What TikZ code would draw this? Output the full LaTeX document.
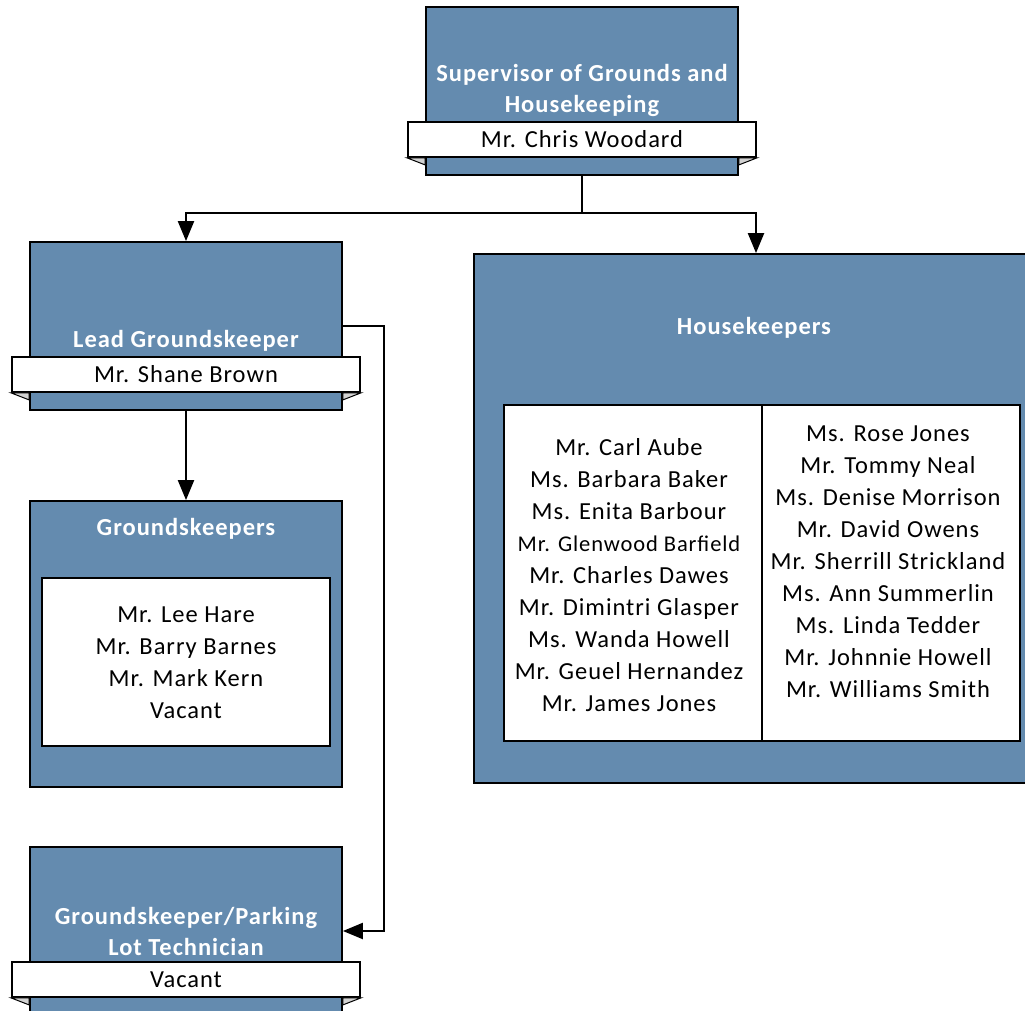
\documentclass[tikz,border=0pt]{standalone}
\usepackage{fontspec}
\setmainfont{Carlito}[LetterSpace=4]
\usetikzlibrary{arrows.meta}
\definecolor{unitblue}{RGB}{100,139,175}
\definecolor{foldgrey}{RGB}{210,210,210}
\newcommand*{\boxw   }{312}
\newcommand*{\boxh   }{168}
\newcommand*{\bannerw}{348}
\newcommand*{\bannerh}{35}
\newcommand*{\foldw  }{18}

\begin{document}
\begin{tikzpicture}[x=1pt, y=-1pt,
    unit/.style={draw, line width=1.8pt, fill=unitblue, minimum width=\boxw pt, minimum height=\boxh pt, inner sep=0pt},
    banner/.style={draw, line width=1.8pt, fill=white, minimum width=\bannerw pt, minimum height=\bannerh pt, inner sep=0pt, font=\fontsize{24.5}{28}\selectfont},
    title/.style={text=white, align=center, font=\bfseries\fontsize{24.5}{31}\selectfont},
    roster/.style={draw, line width=1.8pt, fill=white, inner sep=0pt},
    names/.style={align=center, font=\fontsize{24.5}{32}\selectfont},
    link/.style={line width=2.2pt},
    arr/.style={link, -{Triangle[length=20pt, width=16pt]}}]
    \useasboundingbox (0,0) rectangle (1025,1011);
    \clip (0,0) rectangle (1025,1011);
    % supervisor
    \node [unit] (supv) at (582,91) {};
    \node [title] (supvtitle) at (582,90) {Supervisor of Grounds and\\Housekeeping};
    \node [banner] (supvname) at (582,139.5) {Mr. Chris Woodard};
    % lead groundskeeper
    \node [unit] (lead) at (186,326) {};
    \node [title] (leadtitle) at (186,341) {Lead Groundskeeper};
    \node [banner] (leadname) at (186,374.5) {Mr. Shane Brown};
    % groundskeepers
    \node [unit, minimum height=286pt] (gk) at (186,644) {};
    \node [title] (gktitle) at (186,529) {Groundskeepers};
    \node [roster, minimum width=288pt, minimum height=168pt] (gkroster) at (186,662) {};
    \node [names] (gklist) at (186,663) {Mr. Lee Hare\\Mr. Barry Barnes\\Mr. Mark Kern\\Vacant};
    % parking lot technician
    \node [unit] (plt) at (186,931) {};
    \node [title] (plttitle) at (186,931) {Groundskeeper/Parking\\Lot Technician};
    \node [banner] (pltname) at (186,979.5) {Vacant};
    % housekeepers
    \node [unit, minimum width=564pt, minimum height=529pt] (hk) at (756,518.5) {};
    \node [title] (hktitle) at (754,328) {Housekeepers};
    \node [roster, minimum width=516pt, minimum height=336pt] (hkroster) at (762,573) {};
    \draw [line width=1.8pt] (hkroster.north) -- (hkroster.south);
    \node [names] (hkleft) at (629,575) {Mr. Carl Aube\\Ms. Barbara Baker\\Ms. Enita Barbour\\{\fontsize{22.5}{32}\selectfont Mr. Glenwood Barfield}\\Mr. Charles Dawes\\Mr. Dimintri Glasper\\Ms. Wanda Howell\\Mr. Geuel Hernandez\\Mr. James Jones};
    \node [names] (hkright) at (888,561.5) {Ms. Rose Jones\\Mr. Tommy Neal\\Ms. Denise Morrison\\Mr. David Owens\\Mr. Sherrill Strickland\\Ms. Ann Summerlin\\Ms. Linda Tedder\\Mr. Johnnie Howell\\Mr. Williams Smith};
    % banner folds
    \foreach \b in {supvname, leadname, pltname} {
        \filldraw [fill=foldgrey, line width=1pt] (\b.south west) -- ++(\foldw,0) -- ++(0,7) -- cycle;
        \filldraw [fill=foldgrey, line width=1pt] (\b.south east) -- ++(-\foldw,0) -- ++(0,7) -- cycle;
    }
    % connectors
    \coordinate (split) at (582,213);
    \draw [link] (supv.south) -- (split);
    \draw [arr] (split) -| (lead.north);
    \draw [arr] (split) -| (hk.north);
    \draw [arr] (lead.south) -- (gk.north);
    \draw [arr] (lead.east) -- ++(41,0) |- (plt.east);
\end{tikzpicture}
\end{document}
